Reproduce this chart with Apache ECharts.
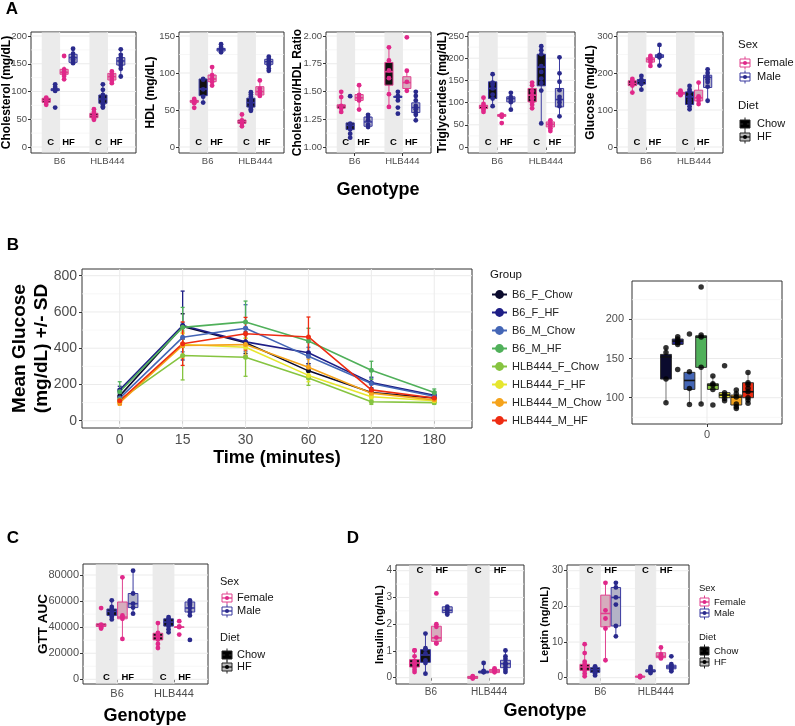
<!DOCTYPE html>
<html><head><meta charset="utf-8">
<script src="https://cdn.jsdelivr.net/npm/echarts@6/dist/echarts.min.js"></script>
<style>html,body{margin:0;padding:0;background:#fff}#c{width:795px;height:726px}</style>
</head><body><div id="c"></div>
<script>
const FONT = '"Liberation Sans", Arial, sans-serif';

// ---------------- categories & tick labels ----------------
const genotypes = ['B6', 'HLB444'];
const dietLabels = ['C', 'HF'];
const sexNames = ['Female', 'Male'];
const dietNames = ['Chow', 'HF'];
const timeLabels = ['0', '15', '30', '60', '120', '180'];
const groupNames = ['B6_F_Chow', 'B6_F_HF', 'B6_M_Chow', 'B6_M_HF', 'HLB444_F_Chow', 'HLB444_F_HF', 'HLB444_M_Chow', 'HLB444_M_HF'];
const insetLabels = ['0'];

const cholTicks = [0, 50, 100, 150, 200];
const hdlTicks = [0, 50, 100, 150];
const ratioTicks = [1.00, 1.25, 1.50, 1.75, 2.00];
const trigTicks = [0, 50, 100, 150, 200, 250];
const gluTicks = [0, 100, 200, 300];
const gttTicks = [0, 200, 400, 600, 800];
const gtt0Ticks = [100, 150, 200];
const aucTicks = [0, 20000, 40000, 60000, 80000];
const insTicks = [0, 1, 2, 3, 4];
const lepTicks = [0, 10, 20, 30];

// ---------------- panel A data (order: B6 F-Chow, B6 M-Chow, B6 F-HF, B6 M-HF, HLB444 F-Chow, M-Chow, F-HF, M-HF) ----------------
// box stats: [lower whisker, Q1, median, Q3, upper whisker]
const cholBox = [[76, 80.5, 84, 87.7, 90.7], [101, 101.5, 103, 105, 113], [122.5, 131, 134.5, 140, 145], [150.7, 152.5, 161, 167, 176.6],
  [48.6, 52.9, 56.5, 60.7, 68.5], [70.9, 78.7, 86.5, 93.7, 113], [114.7, 120.7, 126.7, 132.7, 138.7], [126.7, 147.7, 155, 161, 176.6]];
const cholPts = [[76, 80, 83, 86, 89], [71, 101, 103, 105, 108, 113], [122, 128, 132, 136, 140, 164], [151, 155, 158, 162, 168, 177],
  [49, 51, 53, 55, 57, 60, 63, 68], [71, 73, 77, 80, 84, 87, 90, 94, 103, 113], [115, 119, 123, 128, 131, 136], [127, 141, 147, 152, 156, 161, 166, 176]];

const hdlBox = [[58.6, 60.4, 61.7, 63, 65], [60.4, 69.4, 78.4, 91.9, 92.8], [82.4, 88.3, 91.9, 97.3, 108.6], [128, 129.7, 132, 133.3, 139],
  [27.5, 32, 34.2, 36.5, 44.1], [48.6, 54, 60, 66, 73.9], [69.4, 70.3, 74.8, 81.5, 90.5], [102.7, 111.7, 115.3, 118.5, 122]];
const hdlPts = [[53, 59, 61, 62, 63, 65], [60, 68, 78, 91, 92], [83, 88, 92, 97, 108], [128, 130, 133, 135, 139],
  [28, 32, 34, 36, 44], [49, 51, 53, 56, 59, 62, 65, 68, 71, 74], [69, 72, 75, 79, 90], [103, 106, 110, 113, 116, 119, 122]];

const ratioBox = [[1.316, 1.35, 1.37, 1.38, 1.497], [1.12, 1.157, 1.196, 1.217, 1.226], [1.337, 1.42, 1.443, 1.473, 1.557], [1.18, 1.187, 1.226, 1.27, 1.29],
  [1.361, 1.557, 1.678, 1.762, 1.898], [1.42, 1.446, 1.452, 1.458, 1.497], [1.506, 1.527, 1.58, 1.633, 1.687], [1.24, 1.31, 1.355, 1.398, 1.497]];
const ratioPts = [[1.316, 1.35, 1.37, 1.45, 1.497], [1.084, 1.12, 1.16, 1.19, 1.21, 1.458], [1.337, 1.42, 1.443, 1.47, 1.557], [1.18, 1.2, 1.24, 1.27, 1.29],
  [1.361, 1.476, 1.62, 1.69, 1.78, 1.898], [1.30, 1.355, 1.42, 1.45, 1.46, 1.497], [1.506, 1.587, 1.687, 1.988], [1.24, 1.29, 1.31, 1.34, 1.37, 1.42, 1.46, 1.497]];

const trigBox = [[79, 86.6, 91.9, 94, 111], [91.9, 109.2, 131.8, 146.8, 164], [67.8, 69, 71.5, 73, 74], [84.3, 101.7, 109, 113, 122],
  [86.6, 101.7, 116.7, 131.8, 144.6], [52.7, 137.8, 180, 209, 227], [36.1, 45.2, 51.2, 56.5, 60.2], [69.3, 90.4, 106.9, 131.8, 201.8]];
const trigPts = [[79, 84, 88, 92, 97, 111], [92, 109, 118, 132, 140, 145, 164], [54, 68, 71, 73], [84, 101, 106, 112, 122],
  [87, 95, 101, 110, 117, 126, 139, 145], [53, 127, 144, 154, 169, 182, 209, 218, 227], [36, 42, 48, 54, 60], [69, 92, 100, 107, 113, 128, 147, 166, 202]];

const gluBox = [[147.3, 166, 171.7, 179, 184], [155.4, 170, 178, 182.5, 191.6], [218.7, 229.5, 236.7, 241, 245.8], [219.6, 242, 245.8, 249.4, 275.6],
  [140, 142.8, 145.5, 148, 151.8], [102, 114.8, 135.5, 149, 165.4], [115.7, 124.7, 132.8, 153.6, 173.5], [124.7, 160.8, 188, 194, 210.5]];
const gluPts = [[147, 166, 172, 179, 184], [155, 170, 177, 182, 192], [219, 230, 236, 241, 246], [220, 242, 246, 249, 276],
  [140, 143, 145, 148, 152], [102, 110, 120, 128, 137, 149, 155, 165], [116, 125, 133, 137, 174], [125, 163, 176, 183, 190, 200, 210]];

// ---------------- panel B data ----------------
// mean glucose per group at each time point
const gttMean = [
  [137, 520, 430, 275, 155, 125],   // B6_F_Chow
  [170, 525, 435, 375, 210, 140],   // B6_F_HF
  [125, 460, 510, 355, 205, 135],   // B6_M_Chow
  [160, 515, 545, 440, 278, 155],   // B6_M_HF
  [115, 360, 350, 235, 105, 100],   // HLB444_F_Chow
  [105, 420, 405, 250, 132, 110],   // HLB444_F_HF
  [100, 415, 420, 295, 152, 115],   // HLB444_M_Chow
  [110, 425, 480, 462, 170, 125]    // HLB444_M_HF
];
const gttSD = [
  [25, 70, 60, 40, 25, 15],
  [20, 190, 80, 60, 30, 20],
  [30, 80, 130, 50, 30, 15],
  [55, 110, 115, 70, 50, 20],
  [15, 135, 105, 40, 15, 10],
  [10, 60, 50, 35, 20, 10],
  [15, 70, 60, 45, 20, 15],
  [20, 120, 90, 110, 30, 20]
];
// time-0 glucose boxplots per group
const gtt0Box = [[93.6, 123.8, 152, 155.2, 163.7], [168, 168, 172.2, 174.8, 177.7], [91.5, 110.6, 122, 132.3, 133], [92, 138.7, 177.3, 179, 179.9],
  [110.6, 110.6, 116.1, 117.8, 127.6], [96.2, 100, 103.4, 106.4, 106.4], [86.4, 90.7, 100.8, 103.4, 109.8], [92.8, 100, 107.6, 119.1, 132.3]];
const gtt0Pts = [[93.6, 123.8, 157.8, 163.7], [136.1, 168, 170, 172.2, 174.8, 177.7], [91.5, 111.9, 133, 181.1], [92, 138.7, 177.3, 179.9, 241],
  [90.7, 110.6, 116.1, 117.8, 127.6], [96.2, 99, 103, 106.4, 140.8], [86.4, 88.5, 92, 101, 105, 109.8], [92.8, 97, 100, 107.6, 112, 117, 119.1, 132.3]];

// ---------------- panel C data ----------------
const aucBox = [[38960, 40500, 41500, 42560, 43000], [45900, 49000, 52100, 53900, 60600], [31000, 46400, 47700, 59300, 78200], [50300, 55000, 58000, 65800, 83300],
  [24000, 30200, 32800, 35300, 43100], [36100, 40800, 43900, 46400, 47700], [39800, 39800, 40000, 40200, 40200], [49000, 51600, 54700, 59300, 60600]];
const aucPts = [[38960, 40000, 41000, 42000, 54600], [45900, 48000, 50000, 51500, 53900, 55500, 60600], [31000, 46400, 47700, 49000, 78200], [50300, 55000, 58000, 65800, 83300],
  [24000, 27100, 30500, 32500, 34000, 35500, 43100], [36100, 38400, 40800, 42300, 43900, 45100, 46400, 47700], [34300, 40000, 40500, 44600], [30200, 49000, 51600, 54700, 57000, 58000, 59300, 60600]];

// ---------------- panel D data ----------------
const insBox = [[0.21, 0.4, 0.55, 0.675, 1.02], [0.15, 0.575, 0.85, 1.05, 1.65], [1.275, 1.36, 1.49, 1.925, 1.95], [2.34, 2.43, 2.52, 2.65, 2.71],
  [-0.05, -0.025, 0.01, 0.05, 0.08], [0.175, 0.175, 0.21, 0.25, 0.55], [0.19, 0.19, 0.25, 0.31, 0.34], [0.21, 0.375, 0.525, 0.65, 1.02]];
const insPts = [[0.21, 0.3, 0.4, 0.5, 0.55, 0.62, 0.8, 1.02, 1.02], [0.15, 0.55, 0.65, 0.9, 1.05, 1.1, 1.65], [1.275, 1.3, 1.5, 1.9, 2.0, 3.15], [2.36, 2.43, 2.5, 2.58, 2.66],
  [-0.03, 0.0, 0.03, 0.06], [0.2, 0.22, 0.25, 0.55], [0.2, 0.25, 0.3, 0.35], [0.21, 0.3, 0.4, 0.5, 0.55, 0.7, 0.8, 1.02]];
const lepBox = [[0.4, 2.06, 3.0, 3.75, 9.4], [0.65, 1.5, 2.25, 2.8, 3.2], [4.9, 14.25, 18, 23.15, 26.6], [11.6, 14.5, 22.5, 25.3, 26.6],
  [0.0, 0.15, 0.3, 0.45, 0.7], [1.3, 1.6, 2.0, 2.2, 3.0], [5.4, 5.6, 6.0, 7.0, 8.5], [1.8, 2.5, 3.0, 3.5, 3.8]];
const lepPts = [[0.4, 1.2, 2.0, 2.8, 3.3, 3.8, 4.5, 6.9, 9.4], [0.65, 1.2, 1.8, 2.3, 2.8, 3.2], [4.9, 13.8, 16.6, 18.9, 26.6], [11.6, 14.5, 20.5, 22.5, 25.3, 26.6],
  [0.1, 0.3, 0.5], [1.3, 1.7, 2.0, 2.5, 3.0], [5.4, 5.7, 6.0, 6.5, 8.5], [1.8, 2.2, 2.7, 3.0, 3.3, 3.8, 6.0]];

// ---------------- styles ----------------
const sexPoint = ['#e0288a', '#2a2a8c'];
const sexLine = ['#e0428f', '#3a3aa0'];
const hfFill = ['#d6acbd', '#b3b3c7'];
const chowFill = '#111111';
const groupColors = ['#0b0b2e', '#1e1e86', '#4466b6', '#50b05a', '#86c440', '#e6e62e', '#f5a31b', '#ee2c12'];
const BAND = '#ebebeb';
const dodge4 = [-0.28125, -0.09375, 0.09375, 0.28125];

// ---------------- layout per panel ----------------
function cfgA(left, width, y, ticks, fmt, title, titleX) {
  return { grid: { left, top: 32, width, height: 121 }, x: [0.4, 2.6], xTicks: [1, 2], xLabels: genotypes, y, ticks, fmt,
    fs: 9.5, xm: 3, ym: 4, labelY: ticks[0], labelShift: -4.7, labelFs: 9.5, title, titleX, titleY: 92.5, titleSize: 12 };
}
const int = v => String(v);
const panelsBox = [
  Object.assign(cfgA(31, 105, [-10.81, 207.21], cholTicks, int, 'Cholesterol (mg/dL)', 7), { box: cholBox, pts: cholPts }),
  Object.assign(cfgA(179, 105, [-8.11, 155.41], hdlTicks, int, 'HDL (mg/dL)', 151), { box: hdlBox, pts: hdlPts }),
  Object.assign(cfgA(326, 105, [0.9459, 2.036], ratioTicks, v => v.toFixed(2), 'Cholesterol/HDL Ratio', 297.5), { box: ratioBox, pts: ratioPts }),
  Object.assign(cfgA(468, 107, [-13.51, 259.01], trigTicks, int, 'Triglycerides (mg/dL)', 443), { box: trigBox, pts: trigPts }),
  Object.assign(cfgA(617, 106, [-16.22, 310.81], gluTicks, int, 'Glucose (mg/dL)', 591), { box: gluBox, pts: gluPts }),
  { box: aucBox, pts: aucPts, grid: { left: 83, top: 564, width: 125, height: 120 }, x: [0.4, 2.6], xTicks: [1, 2], xLabels: genotypes,
    y: [-3605, 88437], ticks: aucTicks, fmt: int, fs: 11, xm: 4, ym: 4, labelY: 0, labelShift: -2, labelFs: 9.5,
    title: 'GTT AUC', titleX: 43, titleY: 624, titleSize: 13.5 },
  { box: insBox, pts: insPts, grid: { left: 396, top: 565, width: 128, height: 119 }, x: [0.4, 2.6], xTicks: [1, 2], xLabels: genotypes,
    y: [-0.2355, 4.213], ticks: insTicks, fmt: int, fs: 10, xm: 3, ym: 4, labelY: 4, labelShift: 0, labelFs: 9.5,
    title: 'Insulin (ng/mL)', titleX: 380, titleY: 624.5, titleSize: 11 },
  { box: lepBox, pts: lepPts, grid: { left: 567, top: 565, width: 122, height: 119 }, x: [0.4, 2.6], xTicks: [1, 2], xLabels: genotypes,
    y: [-1.766, 31.6], ticks: lepTicks, fmt: int, fs: 10, xm: 3, ym: 4, labelY: 30, labelShift: 0, labelFs: 9.5,
    title: 'Leptin (ng/mL)', titleX: 545, titleY: 624.5, titleSize: 11 }
];
const cfgGTT = { grid: { left: 82, top: 269, width: 390, height: 159 }, x: [0.4, 6.6], xTicks: [1, 2, 3, 4, 5, 6], xLabels: timeLabels,
  y: [-40.2, 836.9], ticks: gttTicks, fmt: int, fs: 14, xm: 5, ym: 5 };
const cfgInset = { grid: { left: 632, top: 281, width: 150, height: 143 }, x: [0.4, 1.6], xTicks: [1], xLabels: insetLabels,
  y: [66.5, 248.8], ticks: gtt0Ticks, fmt: int, fs: 11, xm: 5, ym: 8 };

// ---------------- builders ----------------
const grid = [], xAxis = [], yAxis = [], series = [], graphic = [];

function addAxes(cfg) {
  const gi = grid.length;
  grid.push(Object.assign({ show: true, borderColor: '#333', borderWidth: 1, backgroundColor: '#fff', containLabel: false, outerBoundsMode: 'none' }, cfg.grid));
  const lbl = { color: '#4d4d4d', fontSize: cfg.fs, fontFamily: FONT };
  xAxis.push({ gridIndex: gi, type: 'value', min: cfg.x[0], max: cfg.x[1], axisLine: { show: false }, splitLine: { show: false },
    axisTick: { show: true, length: 3, lineStyle: { color: '#333' }, customValues: cfg.xTicks },
    axisLabel: Object.assign({ customValues: cfg.xTicks, margin: cfg.xm, formatter: v => cfg.xLabels[Math.round(v) - 1] }, lbl) });
  yAxis.push({ gridIndex: gi, type: 'value', min: cfg.y[0], max: cfg.y[1], axisLine: { show: false }, splitLine: { show: false },
    axisTick: { show: true, length: 3, lineStyle: { color: '#333' }, customValues: cfg.ticks },
    axisLabel: Object.assign({ customValues: cfg.ticks, margin: cfg.ym, formatter: v => cfg.fmt(v) }, lbl) });
  // gridlines
  const t = cfg.ticks, step = t[1] - t[0], data = [];
  t.forEach(v => data.push([cfg.x[0], v, 0]));
  const minors = [t[0] - step / 2, t[t.length - 1] + step / 2];
  for (let i = 0; i < t.length - 1; i++) minors.push((t[i] + t[i + 1]) / 2);
  minors.filter(v => v > cfg.y[0] && v < cfg.y[1]).forEach(v => data.push([cfg.x[0], v, 1]));
  cfg.xTicks.forEach(v => data.push([v, cfg.y[0], 2]));
  series.push({ type: 'custom', xAxisIndex: gi, yAxisIndex: gi, z: 1, silent: true, data, encode: { x: 0, y: 1 },
    renderItem(params, api) {
      const cs = params.coordSys, kind = api.value(2);
      const p = api.coord([api.value(0), api.value(1)]);
      const shape = kind === 2 ? { x1: p[0], y1: cs.y, x2: p[0], y2: cs.y + cs.height } : { x1: cs.x, y1: p[1], x2: cs.x + cs.width, y2: p[1] };
      return { type: 'line', shape, style: { stroke: kind === 1 ? '#f3f3f3' : '#ebebeb', lineWidth: kind === 1 ? 0.7 : 1 } };
    } });
  return gi;
}

function boxRenderer(width, styleFn) {
  return function (params, api) {
    const x = api.value(0), lo = api.value(1), q1 = api.value(2), md = api.value(3), q3 = api.value(4), hi = api.value(5), i = api.value(6);
    const s = styleFn(i);
    const pl = api.coord([x, lo]), ph = api.coord([x, hi]);
    const a = api.coord([x - width / 2, q3]), b = api.coord([x + width / 2, q1]);
    const m1 = api.coord([x - width / 2, md]), m2 = api.coord([x + width / 2, md]);
    return { type: 'group', children: [
      { type: 'line', shape: { x1: pl[0], y1: pl[1], x2: pl[0], y2: b[1] }, style: { stroke: s.whisker, lineWidth: 1 } },
      { type: 'line', shape: { x1: ph[0], y1: ph[1], x2: ph[0], y2: a[1] }, style: { stroke: s.whisker, lineWidth: 1 } },
      { type: 'rect', shape: { x: a[0], y: a[1], width: b[0] - a[0], height: Math.max(b[1] - a[1], 0.5) }, style: { fill: s.fill, stroke: s.stroke, lineWidth: 1 } },
      { type: 'line', shape: { x1: m1[0], y1: m1[1], x2: m2[0], y2: m2[1] }, style: { stroke: s.median, lineWidth: 1.6 } }
    ] };
  };
}

function textSeries(gi, data, fs, shift, textArr) {
  series.push({ type: 'custom', xAxisIndex: gi, yAxisIndex: gi, z: 6, silent: true, data, encode: { x: 0, y: 1 },
    renderItem(params, api) {
      const p = api.coord([api.value(0), api.value(1)]);
      return { type: 'text', x: p[0], y: p[1] + shift, style: { text: textArr[api.value(2)], font: 'bold ' + fs + 'px ' + FONT, fill: '#000',
        align: 'center', verticalAlign: 'middle', textAlign: 'center', textVerticalAlign: 'middle' } };
    } });
}

function vTitle(text, x, y, size, lh) {
  graphic.push({ type: 'text', x, y, rotation: Math.PI / 2, silent: true,
    style: { text, font: 'bold ' + size + 'px ' + FONT, fill: '#000', align: 'center', verticalAlign: 'middle',
      textAlign: 'center', textVerticalAlign: 'middle', lineHeight: lh || size * 1.2 } });
}
function hText(text, x, y, size, bold, align, color) {
  graphic.push({ type: 'text', x, y, silent: true,
    style: { text, font: (bold ? 'bold ' : '') + size + 'px ' + FONT, fill: color || '#000', align: align || 'center', verticalAlign: 'middle',
      textAlign: align || 'center', textVerticalAlign: 'middle' } });
}

const posA = i => Math.floor(i / 4) + 1 + dodge4[i % 4];

// ---------- genotype box panels (A, C, D) ----------
panelsBox.forEach(cfg => {
  const gi = addAxes(cfg);
  // shaded Chow bands
  series.push({ type: 'custom', xAxisIndex: gi, yAxisIndex: gi, z: 2, silent: true, data: genotypes.map((g, k) => [k + 1, cfg.y[0]]), encode: { x: 0, y: 1 },
    renderItem(params, api) {
      const cs = params.coordSys;
      const p1 = api.coord([api.value(0) - 0.375, cfg.y[0]]), p2 = api.coord([api.value(0), cfg.y[0]]);
      return { type: 'rect', shape: { x: p1[0], y: cs.y + 0.5, width: p2[0] - p1[0], height: cs.height - 1 }, style: { fill: BAND } };
    } });
  // boxes
  series.push({ type: 'custom', xAxisIndex: gi, yAxisIndex: gi, z: 3, silent: true, clip: true,
    data: cfg.box.map((b, i) => [posA(i)].concat(b, [i])), encode: { x: 0, y: 1 },
    renderItem: boxRenderer(0.17, i => {
      const sex = i % 2, diet = Math.floor((i % 4) / 2);
      return { fill: diet === 0 ? chowFill : hfFill[sex], stroke: sexLine[sex], whisker: sexLine[sex], median: sexLine[sex] };
    }) });
  // points
  [0, 1].forEach(sex => {
    const data = [];
    cfg.pts.forEach((arr, i) => { if (i % 2 === sex) arr.forEach(v => data.push([posA(i), v])); });
    series.push({ type: 'scatter', name: sexNames[sex] + gi, xAxisIndex: gi, yAxisIndex: gi, z: 4, silent: true, symbolSize: 4.8,
      itemStyle: { color: sexPoint[sex], opacity: 1 }, data });
  });
  // C / HF labels
  const ld = [];
  genotypes.forEach((g, k) => dietLabels.forEach((d, j) => ld.push([k + 1 + (j === 0 ? -0.1875 : 0.1875), cfg.labelY, j])));
  textSeries(gi, ld, cfg.labelFs, cfg.labelShift, dietLabels);
  vTitle(cfg.title, cfg.titleX, cfg.titleY, cfg.titleSize);
});

// ---------- B: GTT curves ----------
const giG = addAxes(cfgGTT);
groupNames.forEach((name, g) => {
  series.push({ type: 'line', name, xAxisIndex: giG, yAxisIndex: giG, z: 4, silent: true,
    data: timeLabels.map((t, j) => [j + 1, gttMean[g][j]]), symbol: 'circle', symbolSize: 5,
    lineStyle: { width: 1.6, color: groupColors[g] }, itemStyle: { color: groupColors[g] } });
});
const errData = [];
groupNames.forEach((name, g) => timeLabels.forEach((t, j) => errData.push([j + 1, gttMean[g][j], gttSD[g][j], g])));
series.push({ type: 'custom', xAxisIndex: giG, yAxisIndex: giG, z: 3, silent: true, data: errData, encode: { x: 0, y: 1 },
  renderItem(params, api) {
    const x = api.value(0), m = api.value(1), sd = api.value(2), c = groupColors[api.value(3)];
    const top = api.coord([x, m + sd]), bot = api.coord([x, m - sd]);
    const st = { stroke: c, lineWidth: 1.3 };
    return { type: 'group', children: [
      { type: 'line', shape: { x1: top[0], y1: top[1], x2: bot[0], y2: bot[1] }, style: st },
      { type: 'line', shape: { x1: top[0] - 2, y1: top[1], x2: top[0] + 2, y2: top[1] }, style: st },
      { type: 'line', shape: { x1: bot[0] - 2, y1: bot[1], x2: bot[0] + 2, y2: bot[1] }, style: st }
    ] };
  } });

// ---------- B: time-0 inset ----------
const giI = addAxes(cfgInset);
const posI = i => 1 + (i - 3.5) * 0.09375;
series.push({ type: 'custom', xAxisIndex: giI, yAxisIndex: giI, z: 3, silent: true, clip: true,
  data: gtt0Box.map((b, i) => [posI(i)].concat(b, [i])), encode: { x: 0, y: 1 },
  renderItem: boxRenderer(0.087, i => ({ fill: groupColors[i], stroke: '#333', whisker: '#777', median: '#111' })) });
const insetPts = [];
gtt0Pts.forEach((arr, i) => arr.forEach(v => insetPts.push([posI(i), v])));
series.push({ type: 'scatter', name: 'inset', xAxisIndex: giI, yAxisIndex: giI, z: 4, silent: true, symbolSize: 5.5,
  itemStyle: { color: '#000' }, data: insetPts });

// ---------- titles & legends ----------
hText('A', 12, 9, 17, true);
hText('B', 13, 245, 17, true);
hText('C', 13, 538, 17, true);
hText('D', 353, 538, 17, true);
hText('Genotype', 378, 190, 18, true);
hText('Genotype', 145, 716, 18, true);
hText('Genotype', 545, 711, 18, true);
vTitle('Mean Glucose\n(mg/dL) +/- SD', 31, 348.5, 19, 22);
hText('Time (minutes)', 277, 458, 18, true);
hText('Group', 490, 275, 11.5, false, 'left', '#111');

function keyGlyph(x, y, w, stroke, fill, dot) {
  graphic.push({ type: 'group', silent: true, children: [
    { type: 'line', shape: { x1: x + w / 2, y1: y - 6.5, x2: x + w / 2, y2: y + 6.5 }, style: { stroke, lineWidth: 1 } },
    { type: 'rect', shape: { x, y: y - 4, width: w, height: 8 }, style: { fill, stroke, lineWidth: 1 } },
    { type: 'line', shape: { x1: x, y1: y, x2: x + w, y2: y }, style: { stroke, lineWidth: 1.4 } },
    { type: 'circle', shape: { cx: x + w / 2, cy: y, r: 2 }, style: { fill: dot } }
  ] });
}
function boxLegend(L) {
  hText('Sex', L.x, L.sexY, L.ts, false, 'left', '#111');
  hText('Diet', L.x, L.dietY, L.ts, false, 'left', '#111');
  [L.fY, L.mY].forEach((y, s) => { keyGlyph(L.ix, y, L.w, sexLine[s], '#fff', sexPoint[s]); hText(sexNames[s], L.tx, y, L.fs, false, 'left', '#111'); });
  [L.cY, L.hY].forEach((y, d) => { keyGlyph(L.ix, y, L.w, '#222', d === 0 ? '#000' : '#bdbdbd', '#000'); hText(dietNames[d], L.tx, y, L.fs, false, 'left', '#111'); });
}
boxLegend({ x: 738, ix: 740, tx: 757, w: 10, sexY: 45, fY: 63, mY: 77, dietY: 106, cY: 124, hY: 137, ts: 11.5, fs: 11 });
boxLegend({ x: 220, ix: 222, tx: 237, w: 10, sexY: 582, fY: 598, mY: 611, dietY: 638, cY: 655, hY: 667, ts: 11, fs: 11 });
boxLegend({ x: 699, ix: 700, tx: 714, w: 9, sexY: 588, fY: 602, mY: 613, dietY: 637, cY: 651, hY: 662, ts: 9.5, fs: 9.5 });

const chart = echarts.init(document.getElementById('c'), null, { renderer: 'canvas' });
chart.setOption({
  animation: false,
  backgroundColor: '#fff',
  grid, xAxis, yAxis, series, graphic,
  legend: { data: groupNames, orient: 'vertical', left: 491, top: 289, padding: 0, itemWidth: 15, itemHeight: 11, itemGap: 7, selectedMode: false,
    textStyle: { fontSize: 11, color: '#222', fontFamily: FONT } }
});
</script>
</body></html>
